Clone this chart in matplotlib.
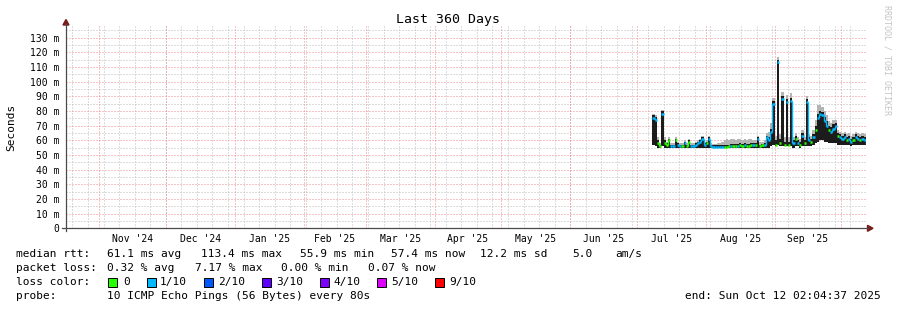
import matplotlib
matplotlib.use('Agg')
import matplotlib.pyplot as plt
import matplotlib.dates as mdates
from matplotlib.patches import Polygon, Rectangle
from datetime import datetime, timedelta

W, H = 897, 310
plt.rcParams['font.family'] = ['DejaVu Sans Mono']

# ---------------- data ----------------
range_start = datetime(2024, 10, 17, 2, 4, 37)
range_end = datetime(2025, 10, 12, 2, 4, 37)
data_start = datetime(2025, 7, 8)

median = [75, 74, 58, 56, 78, 58, 57, 60, 56, 56,
          60, 57, 56, 56, 58, 56, 59, 56, 56, 57,
          58, 59, 61, 57, 58, 61, 56, 55.5, 55.5, 55.5,
          55.5, 55.5, 55.5, 55.5, 56, 56, 56, 56, 56, 56.5,
          56, 56.5, 56, 56, 56.5, 56.5, 57, 61, 56, 56.5,
          57, 62, 60, 66, 85, 57, 113.4, 58, 88, 57,
          86, 57, 87, 58, 61, 58, 57, 63, 58, 86,
          60, 59, 62, 67, 75, 78, 77, 73, 70, 67,
          66, 68, 70, 63, 62, 61, 62, 60, 61, 59,
          60, 62, 61, 60, 61, 60, 57.4]

smoke_lo = [57, 56, 55, 55, 56, 55, 55, 55, 55, 55,
            55, 55, 55, 55, 55, 55, 55, 55, 55, 55,
            55, 55, 55, 55, 55, 55, 55, 55, 55, 55,
            55, 55, 55, 55, 55, 55, 55, 55, 55, 55,
            55, 55, 55, 55, 55, 55, 55, 55, 55, 55,
            55, 55, 55, 56, 57, 56, 57, 56, 56, 56,
            56, 56, 56, 55, 56, 56, 55, 56, 56, 56,
            56, 56, 57, 58, 59, 60, 60, 59, 59, 58,
            58, 58, 58, 57, 57, 57, 57, 57, 57, 56,
            57, 57, 57, 57, 57, 57, 56]

smoke_hi = [77, 76, 60, 57, 80, 60, 58, 61, 57, 57,
            61, 58, 57, 57, 59, 57, 60, 57, 57, 58,
            59, 60, 62, 58, 59, 62, 57, 56.5, 56.5, 56.5,
            56.5, 56.5, 57, 57, 57, 57.5, 57.5, 57.5, 57.5, 58,
            57.5, 58, 57.5, 57.5, 58, 58, 58, 62, 57, 57.5,
            58, 63, 62, 68, 87, 60, 115, 61, 90, 59,
            88, 59, 89, 60, 63, 60, 59, 65, 60, 88,
            62, 61, 64, 70, 78, 80, 79, 76, 73, 70,
            69, 71, 72, 65, 64, 63, 64, 62, 63, 61,
            62, 64, 63, 62, 63, 62, 59]

smoke_top = [78, 77, 62, 58, 81, 62, 59, 62, 58, 58,
             62, 59, 58, 58, 60, 58, 61, 58, 58, 59,
             60, 61, 63, 59, 60, 63, 58, 57.5, 57.5, 58,
             58, 59, 60, 61, 60, 61, 61, 60, 61, 61,
             60, 61, 60, 61, 61, 60, 60, 63, 59, 59,
             60, 65, 66, 72, 89, 63, 117, 64, 93, 62,
             91, 62, 92, 62, 65, 62, 61, 67, 62, 90,
             64, 63, 67, 74, 84, 84, 83, 80, 77, 73,
             72, 74, 74, 67, 66, 65, 66, 64, 65, 63,
             64, 66, 65, 64, 65, 64, 61]

loss = [1, 1, 0, 0, 1, 0, 0, 0, 1, 1,
        0, 1, 1, 0, 1, 0, 0, 1, 1, 1,
        1, 1, 1, 1, 0, 1, 1, 1, 1, 1,
        1, 1, 0, 0, 0, 1, 0, 0, 1, 0,
        0, 1, 0, 0, 0, 1, 0, 1, 0, 0,
        1, 1, 1, 1, 1, 0, 1, 0, 1, 0,
        1, 0, 1, 1, 0, 1, 0, 1, 0, 1,
        1, 0, 1, 0, 1, 1, 1, 1, 1, 0,
        1, 1, 1, 0, 1, 1, 1, 0, 1, 1,
        0, 1, 1, 0, 1, 1, 1]

loss_colors = ['#26ff00', '#00b8ff', '#0059ff', '#5e00ff', '#7e00ff', '#dd00ff', '#ff0000']
loss_labels = ['0', '1/10', '2/10', '3/10', '4/10', '5/10', '9/10']

month_labels = ["Nov '24", "Dec '24", "Jan '25", "Feb '25", "Mar '25", "Apr '25",
                "May '25", "Jun '25", "Jul '25", "Aug '25", "Sep '25"]
y_ticks = [0, 10, 20, 30, 40, 50, 60, 70, 80, 90, 100, 110, 120, 130]
y_labels = ['0', '10 m', '20 m', '30 m', '40 m', '50 m', '60 m', '70 m', '80 m',
            '90 m', '100 m', '110 m', '120 m', '130 m']

title = 'Last 360 Days'
ylabel = 'Seconds'
line_rtt = [(16, 'median rtt:'), (107, '61.1 ms avg'), (201, '113.4 ms max'),
            (300, '55.9 ms min'), (391, '57.4 ms now'), (480, '12.2 ms sd'),
            (572, '5.0'), (615, 'am/s')]
line_loss = [(16, 'packet loss:'), (107, '0.32 % avg'), (195, '7.17 % max'),
             (281, '0.00 % min'), (368, '0.07 % now')]
probe_text = '10 ICMP Echo Pings (56 Bytes) every 80s'
end_text = 'end: Sun Oct 12 02:04:37 2025'

# ---------------- figure ----------------
fig = plt.figure(figsize=(W / 100, H / 100), dpi=100)
fig.patch.set_facecolor('white')

def fx(x):
    return x / W

def fy(y):
    return 1 - y / H

x0, x1 = 66, 866
yb, yt = 228.3, 26
ax = fig.add_axes([fx(x0), fy(yb), (x1 - x0) / W, (yb - yt) / H])
ax.set_facecolor('white')
ppm = 1.466
ax.set_ylim(0, (yb - yt) / ppm)
xs = mdates.date2num(range_start)
xe = mdates.date2num(range_end)
ax.set_xlim(xs, xe)
for s in ax.spines.values():
    s.set_visible(False)

# grid
minor_col = '#bcbcbc'
major_col = '#ee8a8a'
dots = (0, (1, 2))
d = datetime(2024, 10, 20)
while d < range_end:
    ax.axvline(mdates.date2num(d), color=minor_col, lw=0.72, ls=dots, zorder=0.5)
    d += timedelta(days=7)
for v in range(5, 140, 10):
    ax.axhline(v, color=minor_col, lw=0.72, ls=dots, zorder=0.5)
month_starts = [datetime(2024, 11, 1), datetime(2024, 12, 1)] + \
    [datetime(2025, m, 1) for m in range(1, 11)]
for ms in month_starts:
    ax.axvline(mdates.date2num(ms), color=major_col, lw=0.72, ls=dots, zorder=0.6)
for v in y_ticks[1:]:
    ax.axhline(v, color=major_col, lw=0.72, ls=dots, zorder=0.6)

# ticks
mids = [(mdates.date2num(month_starts[i]) + mdates.date2num(month_starts[i + 1])) / 2
        for i in range(len(month_labels))]
ax.set_xticks(mids)
ax.set_xticklabels(month_labels, fontsize=7)
ax.set_yticks(y_ticks)
ax.set_yticklabels(y_labels, fontsize=7)
ax.tick_params(axis='x', length=0, pad=4)
ax.tick_params(axis='y', length=0, pad=5)

# data
dates = [mdates.date2num(data_start + timedelta(days=i)) for i in range(len(median))]
top_h = [t - l for t, l in zip(smoke_top, smoke_lo)]
ax.bar(dates, top_h, bottom=smoke_lo, width=1.0, align='edge', color='#b4b4b4',
       linewidth=0, zorder=2)
hi_h = [h - l for h, l in zip(smoke_hi, smoke_lo)]
ax.bar(dates, hi_h, bottom=smoke_lo, width=1.0, align='edge', color='#1c1c1c',
       linewidth=0, zorder=3)
for i, (x, m, l) in enumerate(zip(dates, median, loss)):
    c = loss_colors[l]
    ax.hlines(m, x, x + 1, color=c, lw=1.8, zorder=4)
    if i + 1 < len(median) and loss[i + 1] == l:
        ax.vlines(x + 1, min(m, median[i + 1]), max(m, median[i + 1]), color=c, lw=1.0, zorder=4)

# axes lines and arrows
axis_col = '#4a4a4a'
arrow_col = '#7a1c1c'
fig.add_artist(plt.Line2D([fx(x0), fx(x0)], [fy(231), fy(24)], color=axis_col, lw=0.9))
fig.add_artist(plt.Line2D([fx(62), fx(868)], [fy(yb), fy(yb)], color=axis_col, lw=0.9))
fig.add_artist(Polygon([(fx(x0), fy(19.5)), (fx(x0 - 3), fy(25)), (fx(x0 + 3), fy(25))],
                       closed=True, color=arrow_col, transform=fig.transFigure))
fig.add_artist(Polygon([(fx(873), fy(yb)), (fx(867.5), fy(yb - 3)), (fx(867.5), fy(yb + 3))],
                       closed=True, color=arrow_col, transform=fig.transFigure))

# texts
fig.text(fx(448), fy(19), title, ha='center', va='center', fontsize=9.5)
fig.text(fx(11), fy(127), ylabel, ha='center', va='center', rotation=90, fontsize=8)
fig.text(fx(887), fy(60), 'RRDTOOL / TOBI OETIKER', ha='center', va='center',
         rotation=270, fontsize=6, color='#c4c4c4')

fs = 8.0
for x, t in line_rtt:
    fig.text(fx(x), fy(254), t, ha='left', va='center', fontsize=fs)
for x, t in line_loss:
    fig.text(fx(x), fy(268), t, ha='left', va='center', fontsize=fs)
fig.text(fx(16), fy(282), 'loss color:', ha='left', va='center', fontsize=fs)
sq_x = [108, 147, 204, 262, 320, 377, 435]
lab_x = [123, 160, 218, 276, 333, 391, 449]
for sx, lx, c, lab in zip(sq_x, lab_x, loss_colors, loss_labels):
    fig.add_artist(Rectangle((fx(sx), fy(286.5)), 9 / W, 9 / H, facecolor=c,
                             edgecolor='black', lw=0.7, transform=fig.transFigure))
    fig.text(fx(lx), fy(282), lab, ha='left', va='center', fontsize=fs)
fig.text(fx(16), fy(296), 'probe:', ha='left', va='center', fontsize=fs)
fig.text(fx(107), fy(296), probe_text, ha='left', va='center', fontsize=fs)
fig.text(fx(881), fy(296), end_text, ha='right', va='center', fontsize=fs)

fig.savefig('out.png', dpi=100, facecolor='white')
